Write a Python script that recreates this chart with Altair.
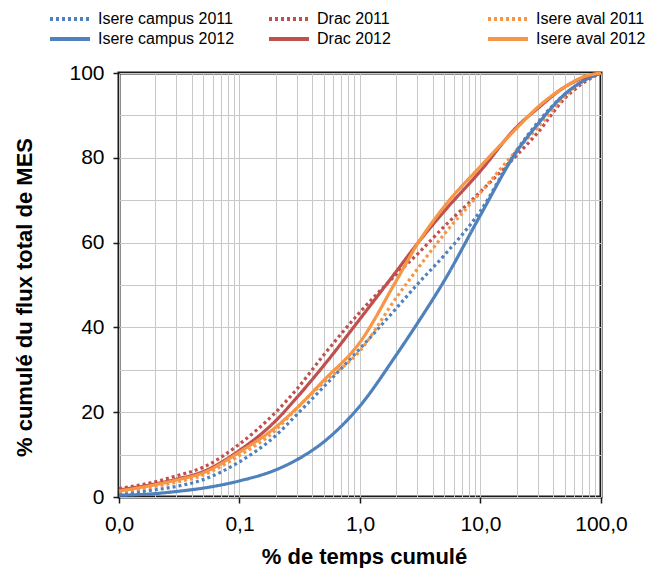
import altair as alt
import pandas as pd

# % de temps cumulé (x, log scale)
temps = [0.01, 0.02, 0.03, 0.05, 0.1, 0.2, 0.3, 0.5, 1, 2, 3, 5, 10, 20, 30, 50, 70, 100]

# % cumulé du flux total de MES (y)
isere_campus_2011 = [0.8, 1.7, 2.5, 4.1, 8.3, 14.5, 19.5, 26, 35, 44.5, 50.2, 57, 67.5, 81.8, 88.4, 95, 98, 100]
drac_2011 = [2.0, 3.6, 5.0, 7.0, 12.5, 20, 25.5, 33.5, 43.6, 52.5, 57.3, 63.8, 72, 80.6, 86, 94, 97.5, 100]
isere_aval_2011 = [1.2, 2.5, 3.5, 5.2, 9.8, 15.8, 21, 27, 34.5, 47, 53.8, 62, 71.8, 81.8, 87.2, 94.5, 98, 100]
isere_campus_2012 = [0.4, 0.8, 1.3, 2.1, 3.8, 6.4, 8.8, 13, 21.5, 33.5, 41, 51, 66.5, 81.5, 88, 95, 98, 100]
drac_2012 = [1.65, 3.1, 4.2, 6.0, 11, 18, 23.5, 31, 42, 53.2, 59.8, 67.4, 76.9, 87.3, 91.7, 96.7, 98.8, 100]
isere_aval_2012 = [1.4, 2.9, 4.0, 5.7, 10.6, 16.5, 21, 27.5, 36.5, 51, 59.7, 68.5, 78, 87, 92, 96.7, 99, 100]

series_names = ["Isere campus 2011", "Drac 2011", "Isere aval 2011",
                "Isere campus 2012", "Drac 2012", "Isere aval 2012"]
series_values = [isere_campus_2011, drac_2011, isere_aval_2011,
                 isere_campus_2012, drac_2012, isere_aval_2012]
series_colors = ["#4F81BD", "#C0504D", "#F79646", "#4F81BD", "#C0504D", "#F79646"]
series_dash = [[3, 3], [3, 3], [3, 3], [1, 0], [1, 0], [1, 0]]

# axis ticks / labels
x_label_values = [0.01, 0.1, 1, 10, 100]
x_label_texts = ["0,0", "0,1", "1,0", "10,0", "100,0"]
x_grid_values = [0.01, 0.02, 0.03, 0.04, 0.05, 0.06, 0.07, 0.08, 0.09,
                 0.1, 0.2, 0.3, 0.4, 0.5, 0.6, 0.7, 0.8, 0.9,
                 1, 2, 3, 4, 5, 6, 7, 8, 9,
                 10, 20, 30, 40, 50, 60, 70, 80, 90, 100]
y_grid_values = [0, 10, 20, 30, 40, 50, 60, 70, 80, 90, 100]

rows = []
for name, vals in zip(series_names, series_values):
    for t, v in zip(temps, vals):
        rows.append({"serie": name, "temps": t, "flux": v})
df = pd.DataFrame(rows)

x_label_expr = " : ".join(
    f"datum.value == {v} ? '{l}'" for v, l in zip(x_label_values, x_label_texts)
) + " : ''"
x_major_test = "indexof([" + ",".join(str(v) for v in x_label_values) + "], datum.value) >= 0"

FONT = "Liberation Sans"

legend = alt.Legend(
    title=None, orient="none", legendX=-71, legendY=-63,
    direction="horizontal", columns=3, gridAlign="all",
    columnPadding=32, rowPadding=2, clipHeight=18,
    symbolType="stroke", symbolSize=1600, symbolStrokeWidth=4,
    labelFontSize=16, labelOffset=6, labelFont=FONT, labelColor="black",
    labelLimit=300,
)

chart = alt.Chart(df).mark_line(strokeWidth=3.2, interpolate="monotone").encode(
    x=alt.X(
        "temps:Q",
        scale=alt.Scale(type="log", domain=[0.01, 100], nice=False),
        axis=alt.Axis(
            values=x_grid_values, labelExpr=x_label_expr,
            title="% de temps cumulé", grid=True, gridColor="#c8c8c8", gridWidth=1,
            domain=False, tickColor="#1a1a1a", tickSize=6, tickWidth=1.5,
            tickOpacity={"condition": {"test": x_major_test, "value": 1}, "value": 0},
            labelFontSize=21, labelPadding=10, labelOverlap=False, labelFlush=False,
            labelFont=FONT, labelColor="black",
            titleFont=FONT, titleFontSize=22, titleFontWeight="bold", titleColor="black",
            titleX=245, titleY=66, titleBaseline="alphabetic", titleAlign="center",
        ),
    ),
    y=alt.Y(
        "flux:Q",
        scale=alt.Scale(domain=[0, 100], nice=False),
        axis=alt.Axis(
            values=y_grid_values, labelExpr="datum.value % 20 == 0 ? datum.label : ''",
            title="% cumulé du flux total de MES", grid=True, gridColor="#c8c8c8", gridWidth=1,
            domain=False, tickColor="#1a1a1a", tickSize=6, tickWidth=1.5,
            tickOpacity={"condition": {"test": "datum.value % 20 == 0", "value": 1}, "value": 0},
            labelFontSize=21, labelPadding=9, labelOverlap=False, labelFlush=False,
            labelFont=FONT, labelColor="black",
            titleFont=FONT, titleFontSize=22, titleFontWeight="bold", titleColor="black",
            titleX=-87.5, titleY=224, titleBaseline="alphabetic", titleAlign="center",
            titleAngle=270,
        ),
    ),
    color=alt.Color("serie:N", scale=alt.Scale(domain=series_names, range=series_colors),
                    legend=legend),
    strokeDash=alt.StrokeDash("serie:N", scale=alt.Scale(domain=series_names, range=series_dash),
                              legend=legend),
).properties(
    width=482, height=424,
    autosize=alt.AutoSizeParams(type="none"),
    padding={"left": 111, "top": 65, "right": 53, "bottom": 71},
).configure_view(
    stroke="#1a1a1a", strokeWidth=3
)

chart.save("out.html", embed_options={"renderer": "svg", "actions": False})
